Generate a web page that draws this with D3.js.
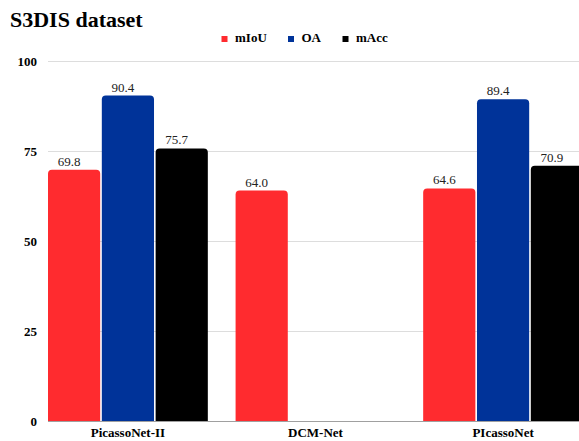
<!DOCTYPE html>
<html>
<head>
<meta charset="utf-8">
<script src="https://cdn.jsdelivr.net/npm/d3@7"></script>
<style>
  html, body { margin: 0; padding: 0; background: #fff; overflow: hidden; }
  svg { display: block; font-family: "Liberation Serif", "Times New Roman", serif; }
</style>
</head>
<body>
<svg id="chart" width="579" height="441"></svg>
<script>
// Chart data
const categories = ["PicassoNet-II", "DCM-Net", "PIcassoNet"];
const seriesNames = ["mIoU", "OA", "mAcc"];
const mIoU = [69.8, 64.0, 64.6];
const OA = [90.4, null, 89.4];
const mAcc = [75.7, null, 70.9];
const yTicks = [0, 25, 50, 75, 100];
const seriesColors = ["#ff2b2f", "#003399", "#000000"];

const seriesValues = [mIoU, OA, mAcc];

const svg = d3.select("#chart");
const font = "'Liberation Serif', 'Times New Roman', serif";

const plot = { left: 48, right: 583, top: 61, bottom: 421 };

const y = d3.scaleLinear().domain([0, 100]).range([plot.bottom, plot.top]);

const x0 = d3.scaleBand()
  .domain(categories)
  .range([plot.left, plot.right])
  .paddingInner(0.148)
  .paddingOuter(0);

const x1 = d3.scaleBand()
  .domain(seriesNames)
  .range([0, x0.bandwidth()])
  .paddingInner(0.03)
  .paddingOuter(0);

// Title
svg.append("text")
  .attr("x", 10)
  .attr("y", 26.5)
  .style("font-family", font)
  .attr("font-weight", "bold")
  .attr("font-size", 22)
  .attr("fill", "#000")
  .text("S3DIS dataset");

// Legend
const legendX = [221.5, 288, 342.5];
const legend = svg.append("g");
seriesNames.forEach((name, i) => {
  legend.append("rect")
    .attr("x", legendX[i])
    .attr("y", 36)
    .attr("width", 6)
    .attr("height", 6)
    .attr("fill", seriesColors[i]);
  legend.append("text")
    .attr("x", legendX[i] + 13.5)
    .attr("y", 42)
    .style("font-family", font)
    .attr("font-weight", "bold")
    .attr("font-size", 13)
    .attr("fill", "#000")
    .text(name);
});

// Gridlines
svg.append("g")
  .selectAll("line")
  .data(yTicks.filter(t => t !== 0))
  .join("line")
  .attr("x1", plot.left)
  .attr("x2", 579)
  .attr("y1", d => Math.round(y(d)) + 0.5)
  .attr("y2", d => Math.round(y(d)) + 0.5)
  .attr("stroke", "#dddddd")
  .attr("stroke-width", 1);

// Y axis labels
const yAxis = d3.axisLeft(y).tickValues(yTicks).tickSize(0).tickPadding(0).tickFormat(d3.format("d"));
const yg = svg.append("g")
  .attr("transform", `translate(37,0)`)
  .call(yAxis);
yg.select(".domain").remove();
yg.attr("font-family", null);
yg.selectAll("text")
  .style("font-family", font)
  .attr("font-weight", "bold")
  .attr("font-size", 13)
  .attr("fill", "#000");

// Rounded-top bar path
function barPath(x, yTop, w, h, r) {
  r = Math.min(r, w / 2, h);
  return `M${x},${yTop + h}V${yTop + r}Q${x},${yTop} ${x + r},${yTop}` +
         `H${x + w - r}Q${x + w},${yTop} ${x + w},${yTop + r}V${yTop + h}Z`;
}

// Bars
const barData = [];
categories.forEach((cat, ci) => {
  seriesNames.forEach((s, si) => {
    const v = seriesValues[si][ci];
    if (v != null) barData.push({ cat, series: s, value: v, color: seriesColors[si] });
  });
});

const bars = svg.append("g");
bars.selectAll("path")
  .data(barData)
  .join("path")
  .attr("d", d => {
    const bx = x0(d.cat) + x1(d.series);
    const top = y(d.value);
    return barPath(bx, top, x1.bandwidth(), y(0) - top, 4);
  })
  .attr("fill", d => d.color);

// Value labels (sit slightly left of the bar centre)
svg.append("g")
  .selectAll("text")
  .data(barData)
  .join("text")
  .attr("x", d => x0(d.cat) + x1(d.series) + x1.bandwidth() / 2 - 5)
  .attr("y", d => y(d.value) - 4)
  .attr("text-anchor", "middle")
  .style("font-family", font)
  .attr("font-size", 13)
  .attr("fill", "#222")
  .text(d => d.value.toFixed(1));

// Baseline
svg.append("line")
  .attr("x1", plot.left)
  .attr("x2", 579)
  .attr("y1", y(0) + 0.5)
  .attr("y2", y(0) + 0.5)
  .attr("stroke", "#a0a0a0")
  .attr("stroke-width", 1);

// Category labels
const xAxis = d3.axisBottom(x0).tickSize(0).tickPadding(0);
const xg = svg.append("g")
  .attr("transform", `translate(0,${plot.bottom + 7})`)
  .call(xAxis);
xg.select(".domain").remove();
xg.attr("font-family", null);
xg.selectAll("text")
  .attr("dy", "0.71em")
  .style("font-family", font)
  .attr("font-weight", "bold")
  .attr("font-size", 13)
  .attr("fill", "#000");
</script>
</body>
</html>
